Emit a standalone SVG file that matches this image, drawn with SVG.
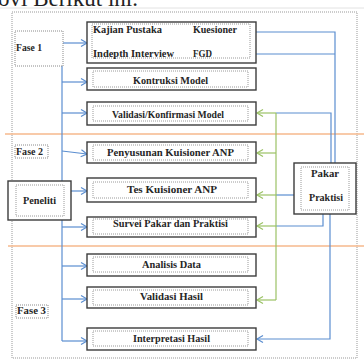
<svg xmlns="http://www.w3.org/2000/svg" width="364" height="361" viewBox="0 0 364 361">
<style>
.t{font-family:"Liberation Serif","Times New Roman",serif;font-size:10px;font-weight:bold;fill:#262626}
.ob{fill:#fff;stroke:#3c3c3c;stroke-width:1.4}
.ib{fill:none;stroke:#9a9a9a;stroke-width:1;stroke-dasharray:1 1}
.dot{fill:#fff;stroke:#8a8a8a;stroke-width:1;stroke-dasharray:1 1}
.b{fill:none;stroke:#5b8ed0;stroke-width:1.2}
.g{fill:none;stroke:#9bc265;stroke-width:1.2}
.o{stroke:#f6b88c;stroke-width:1.6}
</style>
<defs>
<marker id="ab" markerUnits="userSpaceOnUse" markerWidth="9" markerHeight="9" refX="7" refY="4" orient="auto"><path d="M1,0.5 L7,4 L1,7.5" fill="none" stroke="#5b8ed0" stroke-width="1.2"/></marker>
<marker id="ag" markerUnits="userSpaceOnUse" markerWidth="9" markerHeight="9" refX="7" refY="4" orient="auto"><path d="M1,0.5 L7,4 L1,7.5" fill="none" stroke="#9bc265" stroke-width="1.2"/></marker>
</defs>
<rect width="364" height="361" fill="#fff"/>
<text x="-2" y="6" style="font-family:'Liberation Serif',serif;font-size:23px;fill:#222">ovi Berikut ini.</text>
<line x1="0" y1="8" x2="364" y2="8" stroke="#e2e2e2" stroke-width="1"/>
<rect x="12" y="12" width="345" height="346" fill="none" stroke="#999" stroke-width="1" stroke-dasharray="1 1"/>
<line class="o" x1="5" y1="134" x2="364" y2="134"/>
<line class="o" x1="8" y1="246" x2="364" y2="246"/>
<g id="connectors">
<line class="b" x1="62" y1="43" x2="62" y2="341"/>
<line class="b" x1="62" y1="43" x2="87" y2="43" marker-end="url(#ab)"/>
<line class="b" x1="62" y1="82" x2="87" y2="82" marker-end="url(#ab)"/>
<line class="b" x1="62" y1="113" x2="87" y2="113" marker-end="url(#ab)"/>
<line class="b" x1="62" y1="151" x2="87" y2="154" marker-end="url(#ab)"/>
<line class="b" x1="71" y1="191" x2="87" y2="191" marker-end="url(#ab)"/>
<line class="b" x1="62" y1="227" x2="87" y2="227" marker-end="url(#ab)"/>
<line class="b" x1="62" y1="266" x2="87" y2="266" marker-end="url(#ab)"/>
<line class="b" x1="62" y1="299" x2="87" y2="299" marker-end="url(#ab)"/>
<line class="b" x1="62" y1="341" x2="87" y2="341" marker-end="url(#ab)"/>
<polyline class="b" points="335,163 335,32 240,32" marker-end="url(#ab)"/>
<line class="b" x1="335" y1="54" x2="240" y2="54" marker-end="url(#ab)"/>
<polyline class="b" points="331,163 331,113 276,113"/>
<line class="b" x1="294" y1="195" x2="276" y2="195"/>
<polyline class="b" points="323,214 323,226 276,226"/>
<polyline class="b" points="330,214 330,339 257,339" marker-end="url(#ab)"/>
<line class="g" x1="276" y1="113" x2="276" y2="300"/>
<line class="g" x1="276" y1="113" x2="257" y2="113" marker-end="url(#ag)"/>
<line class="g" x1="276" y1="153" x2="257" y2="153" marker-end="url(#ag)"/>
<line class="g" x1="276" y1="195" x2="257" y2="195" marker-end="url(#ag)"/>
<line class="g" x1="276" y1="226" x2="257" y2="226" marker-end="url(#ag)"/>
<line class="g" x1="276" y1="300" x2="257" y2="300" marker-end="url(#ag)"/>
</g>
<g id="fase1"><rect class="dot" x="15" y="31" width="48" height="35"/><text class="t" x="16" y="51" textLength="26" lengthAdjust="spacingAndGlyphs">Fase 1</text></g>
<g id="fase2"><rect class="dot" x="15" y="145" width="33" height="13"/><text class="t" x="16" y="155" textLength="27" lengthAdjust="spacingAndGlyphs">Fase 2</text></g>
<g id="fase3"><rect class="dot" x="16" y="305" width="32" height="13"/><text class="t" x="17" y="314" textLength="29" lengthAdjust="spacingAndGlyphs">Fase 3</text></g>
<g id="peneliti"><rect class="ob" x="8" y="181" width="63" height="39"/><rect class="ib" x="16" y="185" width="48" height="31"/><text class="t" x="23" y="204" textLength="33" lengthAdjust="spacingAndGlyphs">Peneliti</text></g>
<g id="kajian"><rect class="ob" x="87" y="22" width="169" height="41"/><rect class="ib" x="92" y="24" width="158" height="34"/>
<text class="t" x="93" y="33" textLength="69" lengthAdjust="spacingAndGlyphs">Kajian Pustaka</text>
<text class="t" x="193" y="33" textLength="44" lengthAdjust="spacingAndGlyphs">Kuesioner</text>
<text class="t" x="93" y="57" textLength="81" lengthAdjust="spacingAndGlyphs">Indepth Interview</text>
<text class="t" x="193" y="57" textLength="19" lengthAdjust="spacingAndGlyphs">FGD</text></g>
<g id="kontruksi"><rect class="ob" x="87" y="68" width="169" height="22"/><rect class="ib" x="93" y="71" width="155" height="16"/><text class="t" x="133" y="84" textLength="75" lengthAdjust="spacingAndGlyphs">Kontruksi Model</text></g>
<g id="validasi-model"><rect class="ob" x="87" y="102" width="169" height="23"/><rect class="ib" x="93" y="106" width="155" height="15"/><text class="t" x="112" y="118" textLength="112" lengthAdjust="spacingAndGlyphs">Validasi/Konfirmasi Model</text></g>
<g id="penyusunan"><rect class="ob" x="87" y="142" width="169" height="21"/><rect class="ib" x="93" y="145" width="155" height="15"/><text class="t" x="107" y="156" textLength="127" lengthAdjust="spacingAndGlyphs">Penyusunan  Kuisioner ANP</text></g>
<g id="tes"><rect class="ob" x="87" y="178" width="169" height="24"/><rect class="ib" x="93" y="182" width="155" height="16"/><text class="t" x="127" y="193" textLength="90" lengthAdjust="spacingAndGlyphs">Tes  Kuisioner ANP</text></g>
<g id="survei"><rect class="ob" x="87" y="217" width="169" height="20"/><rect class="ib" x="93" y="219" width="155" height="15"/><text class="t" x="113" y="227" textLength="115" lengthAdjust="spacingAndGlyphs">Survei Pakar dan Praktisi</text></g>
<g id="analisis"><rect class="ob" x="87" y="254" width="169" height="22"/><rect class="ib" x="93" y="257" width="155" height="15"/><text class="t" x="142" y="268" textLength="59" lengthAdjust="spacingAndGlyphs">Analisis Data</text></g>
<g id="validasi-hasil"><rect class="ob" x="87" y="287" width="169" height="21"/><rect class="ib" x="93" y="290" width="155" height="15"/><text class="t" x="140" y="300" textLength="63" lengthAdjust="spacingAndGlyphs">Validasi Hasil</text></g>
<g id="interpretasi"><rect class="ob" x="87" y="328" width="169" height="22"/><rect class="ib" x="93" y="331" width="155" height="15"/><text class="t" x="133" y="342" textLength="77" lengthAdjust="spacingAndGlyphs">Interpretasi Hasil</text></g>
<g id="pakar"><rect class="ob" x="294" y="163" width="62" height="51"/><rect class="ib" x="301" y="167" width="48" height="43"/>
<text class="t" x="311" y="177" textLength="28" lengthAdjust="spacingAndGlyphs">Pakar</text>
<text class="t" x="309" y="201" textLength="34" lengthAdjust="spacingAndGlyphs">Praktisi</text></g>
</svg>
